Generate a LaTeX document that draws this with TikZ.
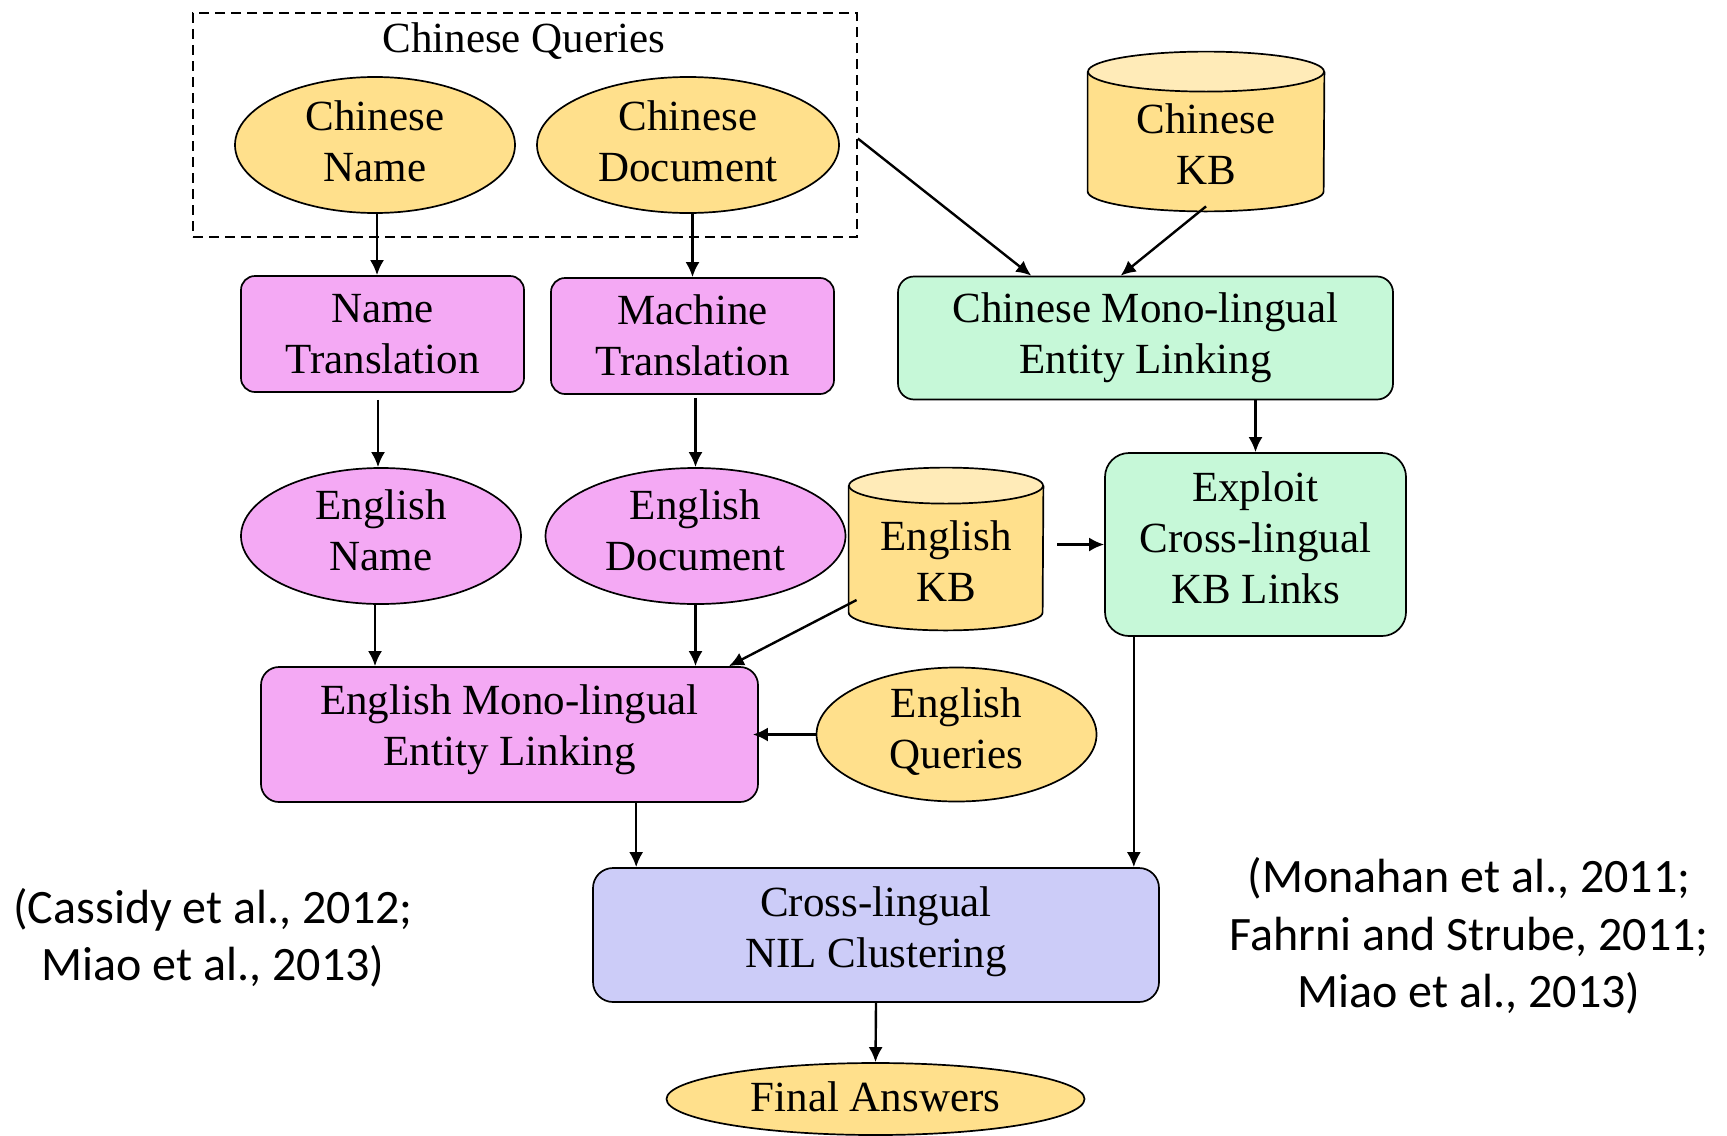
\documentclass[tikz,border=0pt]{standalone}
\usepackage{fontspec}
\setmainfont{Liberation Serif}
\newfontfamily\citefont{Carlito}
\usetikzlibrary{shapes.geometric,arrows.meta,calc}
\definecolor{yel}{HTML}{FFE08C}
\definecolor{yeltop}{HTML}{FFEBB8}
\definecolor{pnk}{HTML}{F4A9F4}
\definecolor{grn}{HTML}{C6F8D8}
\definecolor{lav}{HTML}{CCCCF8}
\newcommand\kbcyl[3]{%
  \fill[yel] ($(#1.north west)+(0,-#3)$) -- ($(#1.south west)+(0,#3)$)
     arc[start angle=180,end angle=360,x radius=#2,y radius=#3]
     -- ($(#1.north east)+(0,-#3)$)
     arc[start angle=0,end angle=180,x radius=#2,y radius=#3] -- cycle;
  \draw[line width=0.85pt] ($(#1.north west)+(0,-#3)$) -- ($(#1.south west)+(0,#3)$)
     arc[start angle=180,end angle=360,x radius=#2,y radius=#3]
     -- ($(#1.north east)+(0,-#3)$);
  \filldraw[fill=yeltop,line width=0.85pt] ($(#1.north)+(0,-#3)$) ellipse[x radius=#2,y radius=#3];
}
\begin{document}
\begin{tikzpicture}[x=0.5pt,y=-0.5pt,
  every node/.style={font=\fontsize{21.5}{25.5}\selectfont,align=center,inner sep=0pt},
  ell/.style={ellipse,draw,line width=0.85pt},
  box/.style={rectangle,draw,line width=0.85pt},
  arr/.style={line width=1.2pt,-{Latex[length=7.5pt,width=7pt]}},
  cite/.style={font=\citefont\fontsize{24}{28.7}\selectfont}]
\useasboundingbox (0,0) rectangle (1727,1135);

% Chinese queries frame
\node[draw,dash pattern=on 5pt off 3pt,line width=0.85pt,minimum width=332pt,minimum height=112pt] (cq) at (525,125) {};
\node (cqt) at (524,41) {Chinese Queries};
\node[ell,fill=yel,minimum width=140pt,minimum height=68pt,text depth=4pt] (cn) at (375,145) {Chinese\\Name};
\node[ell,fill=yel,minimum width=151pt,minimum height=68pt,text depth=4pt] (cd) at (688,145) {Chinese\\Document};

% Chinese KB
\node[minimum width=118pt,minimum height=79.5pt] (ckb) at (1206,131.5) {};
\kbcyl{ckb}{59pt}{10pt}
\node (ckbt) at (1206,144) {Chinese\\KB};

\node[box,fill=grn,rounded corners=8pt,minimum width=247.5pt,minimum height=61.5pt] (cel) at (1145.5,338) {Chinese Mono-lingual\\Entity Linking};
\node[box,fill=pnk,rounded corners=7pt,minimum width=141.5pt,minimum height=58pt] (nt) at (382.5,334) {Name\\Translation};
\node[box,fill=pnk,rounded corners=7pt,minimum width=141.5pt,minimum height=58pt,text depth=1pt] (mt) at (692.5,336) {Machine\\Translation};

\node[ell,fill=pnk,minimum width=140pt,minimum height=68pt,text depth=5.5pt] (en) at (381,536) {English\\Name};
\node[ell,fill=pnk,minimum width=150pt,minimum height=68pt,text depth=5.5pt] (ed) at (695.5,536) {English\\Document};

% English KB
\node[minimum width=97pt,minimum height=81pt] (ekb) at (946,549) {};
\kbcyl{ekb}{48.5pt}{9pt}
\node (ekbt) at (946,561) {English\\KB};

\node[box,fill=grn,rounded corners=12pt,minimum width=150.5pt,minimum height=91.5pt,text depth=6.6pt] (ex) at (1255.5,544.5) {Exploit\\Cross-lingual\\KB Links};
\node[box,fill=pnk,rounded corners=9pt,minimum width=248.5pt,minimum height=67.5pt,text depth=9pt] (eel) at (509.5,734.5) {English Mono-lingual\\Entity Linking};
\node[ell,fill=yel,minimum width=140pt,minimum height=67pt,text depth=6pt] (eq) at (956.5,734.5) {English\\Queries};
\node[box,fill=lav,rounded corners=10pt,minimum width=283pt,minimum height=67pt,text depth=8pt] (nil) at (876,935) {Cross-lingual\\NIL Clustering};
\node[ell,fill=yel,minimum width=209pt,minimum height=36pt,text depth=2pt] (fa) at (875.5,1099) {Final Answers};

% citations
\node[cite] (c1) at (213,938) {(Cassidy et al., 2012;\\Miao et al., 2013)};
\node[cite] (c2) at (1469,936) {(Monahan et al., 2011;\\Fahrni and Strube, 2011;\\Miao et al., 2013)};

% connectors
\coordinate (cnb) at ($(cn.south)+(2,0)$);
\draw[arr] (cnb) -- (cnb |- nt.north);
\draw[arr] (mt.north |- cd.south) -- (mt.north);
\coordinate (cqe) at ($(cq.north east)!0.56!(cq.south east)$);
\coordinate (celin) at ($(cel.north west)!0.27!(cel.north east)$);
\draw[arr] (cqe) -- (celin);
\coordinate (ckbb) at ($(ckb.south)+(0,2.5pt)$);
\coordinate (celin2) at ($(cel.north west)!0.45!(cel.north east)$);
\draw[arr] (ckbb) -- (celin2);
\coordinate (ntb) at ($(nt.south)+(-4.5,7)$);
\draw[arr] (ntb) -- (ntb |- en.north);
\coordinate (mtb) at ($(mt.south -| ed.north)+(0,3)$);
\draw[arr] (mtb) -- (ed.north);
\draw[arr] (ex.north |- cel.south) -- (ex.north);
\coordinate (ekbr) at ($(ekb.east |- ex.west)+(14,0)$);
\draw[arr] (ekbr) -- (ex.west);
\coordinate (enb) at ($(en.south)+(-6,0)$);
\draw[arr] (enb) -- (enb |- eel.north);
\draw[arr] (ed.south) -- (ed.south |- eel.north);
\coordinate (ekbl) at ($(ekb.west)+(8,51)$);
\coordinate (eelin) at ($(eel.north west)!0.94!(eel.north east)$);
\draw[arr] (ekbl) -- (eelin);
\draw[arr] (eq.west) -- ($(eel.east |- eq.west)+(-6,0)$);
\coordinate (eelb) at ($(eel.south west)!0.754!(eel.south east)$);
\draw[arr] (eelb) -- (eelb |- nil.north);
\coordinate (exb) at ($(ex.south west)!0.098!(ex.south east)$);
\draw[arr] (exb) -- (exb |- nil.north);
\draw[arr] (nil.south) -- (fa.north);
\end{tikzpicture}
\end{document}
